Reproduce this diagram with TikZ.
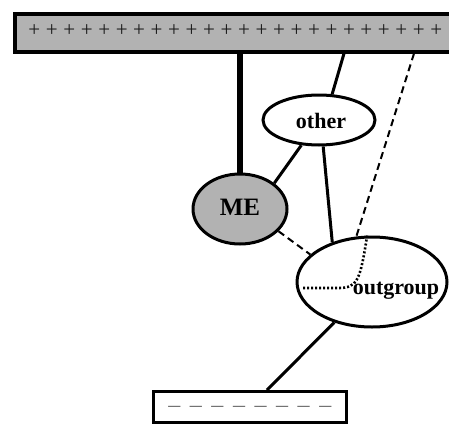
\documentclass[tikz,border=0pt]{standalone}
\usepackage{fontspec}
\setmainfont{Liberation Serif}
\usetikzlibrary{shapes.geometric}
\begin{document}
\begin{tikzpicture}[x=1pt,y=-1pt,
  oval/.style={ellipse,draw=black,line width=3pt,inner sep=0pt},
  lab/.style={font=\bfseries\fontsize{22}{22}\selectfont,inner sep=0pt},
  conn/.style={draw=black,line width=3pt},
  dconn/.style={draw=black,line width=2pt,dash pattern=on 7pt off 4.5pt},
]
\clip (0,0) rectangle (449,423);
\fill[white] (0,0) rectangle (449,423);
% top bar
\node[draw=black,fill=gray!60,line width=3.5pt,minimum width=480pt,minimum height=38pt,anchor=north west,inner sep=0pt] (bar) at (13,12) {};
\node[text=black!90,font=\fontsize{21}{21}\selectfont,inner sep=0pt] (plus) at (235.3,31) {\foreach \i in {1,...,24}{\makebox[17.48pt]{+}}};
% bottom box
\node[draw=black,fill=white,line width=2.5pt,minimum width=193pt,minimum height=31pt,anchor=north west,inner sep=0pt] (low) at (152,390) {};
\node[text=black!55,font=\fontsize{24}{24}\selectfont,inner sep=0pt] (minus) at (249.8,409) {\foreach \i in {1,...,8}{\makebox[21.57pt]{–}}};
% ellipses
\node[oval,fill=gray!60,minimum width=94pt,minimum height=70pt] (ME) at (240,209) {};
\node[lab,font=\bfseries\fontsize{25}{25}\selectfont] (MEt) at (240,207) {ME};
\node[oval,fill=white,minimum width=112pt,minimum height=50pt] (other) at (319,120) {};
\node[lab] (othert) at (321,121) {other};
\node[oval,fill=white,minimum width=150pt,minimum height=90pt] (outgroup) at (372,282) {};
\node[lab] (outgroupt) at (396,291) {outgroup};
% connectors
\coordinate (b1) at (344,0);
\coordinate (b2) at (414,0);
\draw[black,line width=6.5pt] (bar.south -| ME.north) -- (ME.north);
\draw[conn] (bar.south -| b1) -- (other.63);
\draw[conn] (other.-125) -- (ME.37);
\draw[conn] (other.-81) -- (outgroup.135);
\draw[dconn] (bar.south -| b2) -- (outgroup.109);
\draw[dconn] (ME.-30) -- (outgroup.156);
\draw[conn] (outgroup.-133) -- (low.north -| 267,0);
\draw[black,line width=2.6pt,dash pattern=on 2pt off 2pt] (outgroup.96) .. controls (360,282) and (357,288) .. (338,288) -- (302,288);
\end{tikzpicture}
\end{document}
